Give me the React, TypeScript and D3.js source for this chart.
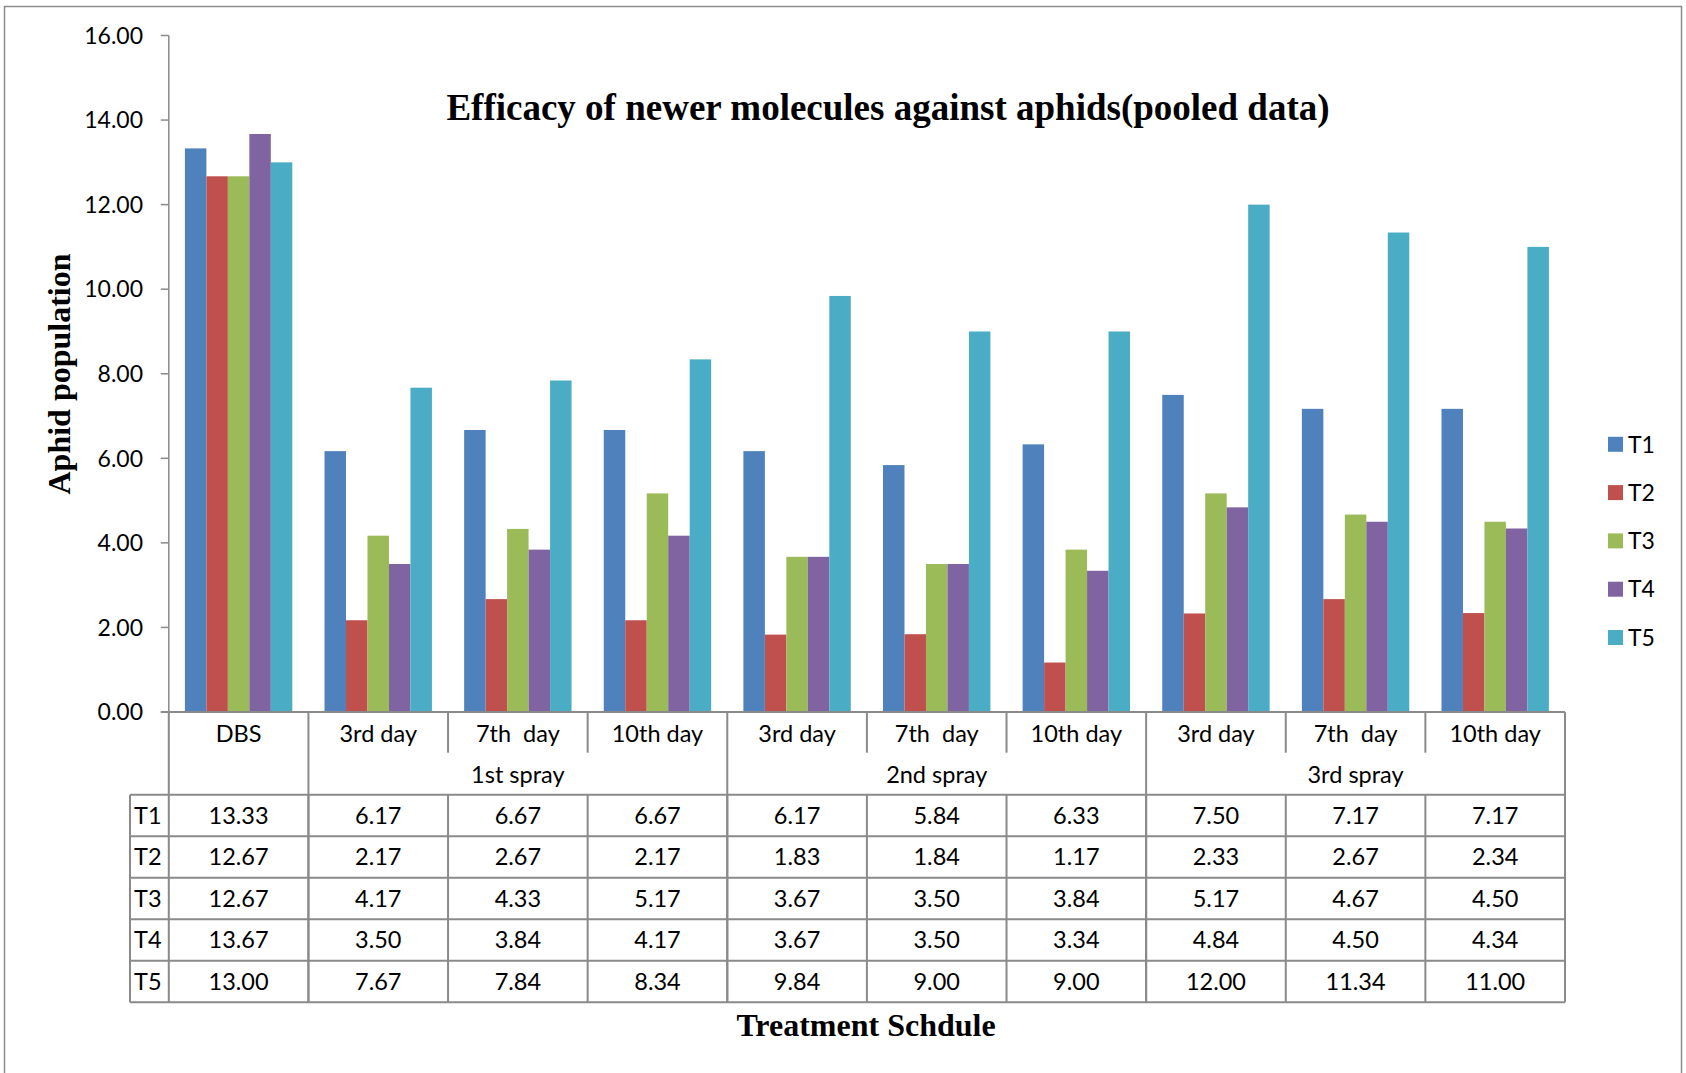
import React from "react";
import * as d3 from "d3";

// Sampling days along the x axis
const categories = ["DBS", "3rd day", "7th  day", "10th day", "3rd day", "7th  day", "10th day", "3rd day", "7th  day", "10th day"];
// Spray groups: label and the category index span [start, end)
const sprayGroups = [
  { label: "", start: 0, end: 1 },
  { label: "1st spray", start: 1, end: 4 },
  { label: "2nd spray", start: 4, end: 7 },
  { label: "3rd spray", start: 7, end: 10 },
];
const seriesNames = ["T1", "T2", "T3", "T4", "T5"];
const T1 = [13.33, 6.17, 6.67, 6.67, 6.17, 5.84, 6.33, 7.5, 7.17, 7.17];
const T2 = [12.67, 2.17, 2.67, 2.17, 1.83, 1.84, 1.17, 2.33, 2.67, 2.34];
const T3 = [12.67, 4.17, 4.33, 5.17, 3.67, 3.5, 3.84, 5.17, 4.67, 4.5];
const T4 = [13.67, 3.5, 3.84, 4.17, 3.67, 3.5, 3.34, 4.84, 4.5, 4.34];
const T5 = [13.0, 7.67, 7.84, 8.34, 9.84, 9.0, 9.0, 12.0, 11.34, 11.0];
const seriesValues = [T1, T2, T3, T4, T5];
const colors = ["#4F81BD", "#C0504D", "#9BBB59", "#8064A2", "#4BACC6"];
const yTicks = [0, 2, 4, 6, 8, 10, 12, 14, 16];

const W = 1686;
const H = 1073;
const plotLeft = 168.8;
const plotRight = 1565;
const plotTop = 35.5;
const plotBottom = 712;
const rowDayBottom = 752.7;
const rowSprayBottom = 794.7;
const rowH = 41.5;
const legendCol = 130;

const gridColor = "#8a8a8a";
const sans = "Lato, 'Open Sans', sans-serif";
const serif = "'Liberation Serif', 'Times New Roman', serif";

export default function App() {
  const x = d3.scaleBand<number>().domain(d3.range(categories.length)).range([plotLeft, plotRight]).padding(0);
  const xs = d3.scaleBand<number>().domain(d3.range(seriesNames.length)).range([0, x.bandwidth()]).paddingInner(0).paddingOuter(0.75);
  const y = d3.scaleLinear().domain([0, 16]).range([plotBottom, plotTop]);
  const cw = x.bandwidth();
  const tableBottom = rowSprayBottom + rowH * seriesNames.length;

  return (
    <svg width={W} height={H} style={{ position: "absolute", left: 0, top: 0, background: "#fff" }}>
      <rect x={0} y={0} width={W} height={H} fill="#fff" />
      {/* chart frame */}
      <rect x={4.5} y={6.5} width={1677} height={H + 10} fill="none" stroke="#8c8c8c" strokeWidth={1.5} />

      {/* title */}
      <text x={888} y={120} textAnchor="middle" fontFamily={serif} fontWeight="bold" fontSize={37} fill="#000">
        Efficacy of newer molecules against aphids(pooled data)
      </text>

      {/* bars */}
      {seriesValues.map((vals, s) => (
        <g key={s}>
          {vals.map((v, i) => (
            <rect
              key={i}
              x={(x(i) as number) + (xs(s) as number)}
              y={y(v)}
              width={xs.bandwidth()}
              height={plotBottom - y(v)}
              fill={colors[s]}
            />
          ))}
        </g>
      ))}

      {/* y axis */}
      <line x1={plotLeft} x2={plotLeft} y1={plotTop} y2={plotBottom} stroke={gridColor} strokeWidth={1.5} />
      {yTicks.map((t) => (
        <g key={t}>
          <line x1={plotLeft - 8} x2={plotLeft} y1={y(t)} y2={y(t)} stroke={gridColor} strokeWidth={1.5} />
          <text x={143} y={y(t)} dy="0.36em" textAnchor="end" fontFamily={sans} fontSize={23} fill="#000">
            {t.toFixed(2)}
          </text>
        </g>
      ))}
      <text
        transform={`translate(70,374) rotate(-90)`}
        textAnchor="middle"
        fontFamily={serif}
        fontWeight="bold"
        fontSize={32}
        fill="#000"
      >
        Aphid population
      </text>

      {/* data table */}
      <g stroke={gridColor} strokeWidth={2} fill="none">
        <line x1={plotLeft - 8} x2={plotRight} y1={plotBottom} y2={plotBottom} />
        {/* vertical separators between days inside a spray group */}
        {d3.range(1, categories.length).map((i) => {
          const isGroupEdge = sprayGroups.some((g) => g.start === i);
          return (
            <line
              key={i}
              x1={x(i) as number}
              x2={x(i) as number}
              y1={plotBottom}
              y2={isGroupEdge ? tableBottom : rowDayBottom}
            />
          );
        })}
        {/* day separators continue through the value rows */}
        {d3.range(1, categories.length).map((i) => (
          <line key={"v" + i} x1={x(i) as number} x2={x(i) as number} y1={rowSprayBottom} y2={tableBottom} />
        ))}
        <line x1={plotLeft} x2={plotLeft} y1={plotBottom} y2={tableBottom} />
        <line x1={plotRight} x2={plotRight} y1={plotBottom} y2={tableBottom} />
        <line x1={legendCol} x2={legendCol} y1={rowSprayBottom} y2={tableBottom} />
        {d3.range(seriesNames.length + 1).map((r) => (
          <line key={"h" + r} x1={legendCol} x2={plotRight} y1={rowSprayBottom + r * rowH} y2={rowSprayBottom + r * rowH} />
        ))}
      </g>

      {categories.map((c, i) => (
        <text
          key={"c" + i}
          x={(x(i) as number) + cw / 2}
          y={(plotBottom + rowDayBottom) / 2 + 1.5}
          dy="0.35em"
          textAnchor="middle"
          fontFamily={sans}
          fontSize={23.5}
          fill="#000"
          style={{ whiteSpace: "pre" }}
        >
          {c}
        </text>
      ))}
      {sprayGroups.map((g, k) => (
        <text
          key={"g" + k}
          x={(x(g.start) as number) + ((g.end - g.start) * cw) / 2}
          y={(rowDayBottom + rowSprayBottom) / 2 + 1}
          dy="0.35em"
          textAnchor="middle"
          fontFamily={sans}
          fontSize={23.5}
          fill="#000"
        >
          {g.label}
        </text>
      ))}
      {seriesValues.map((vals, s) => (
        <g key={"r" + s}>
          <text
            x={legendCol + 4}
            y={rowSprayBottom + rowH * (s + 0.5)}
            dy="0.36em"
            fontFamily={sans}
            fontSize={23.5}
            fill="#000"
          >
            {seriesNames[s]}
          </text>
          {vals.map((v, i) => (
            <text
              key={i}
              x={(x(i) as number) + cw / 2}
              y={rowSprayBottom + rowH * (s + 0.5)}
              dy="0.36em"
              textAnchor="middle"
              fontFamily={sans}
              fontSize={23.5}
              fill="#000"
            >
              {v.toFixed(2)}
            </text>
          ))}
        </g>
      ))}

      <text x={866} y={1036} textAnchor="middle" fontFamily={serif} fontWeight="bold" fontSize={32} fill="#000">
        Treatment Schdule
      </text>

      {/* legend */}
      {seriesNames.map((n, s) => (
        <g key={"l" + s} transform={`translate(1608,${444.3 + s * 48.3})`}>
          <rect x={0} y={-7.5} width={15} height={15} fill={colors[s]} />
          <text x={20} y={0} dy="0.36em" fontFamily={sans} fontSize={23} fill="#000">
            {n}
          </text>
        </g>
      ))}
    </svg>
  );
}
